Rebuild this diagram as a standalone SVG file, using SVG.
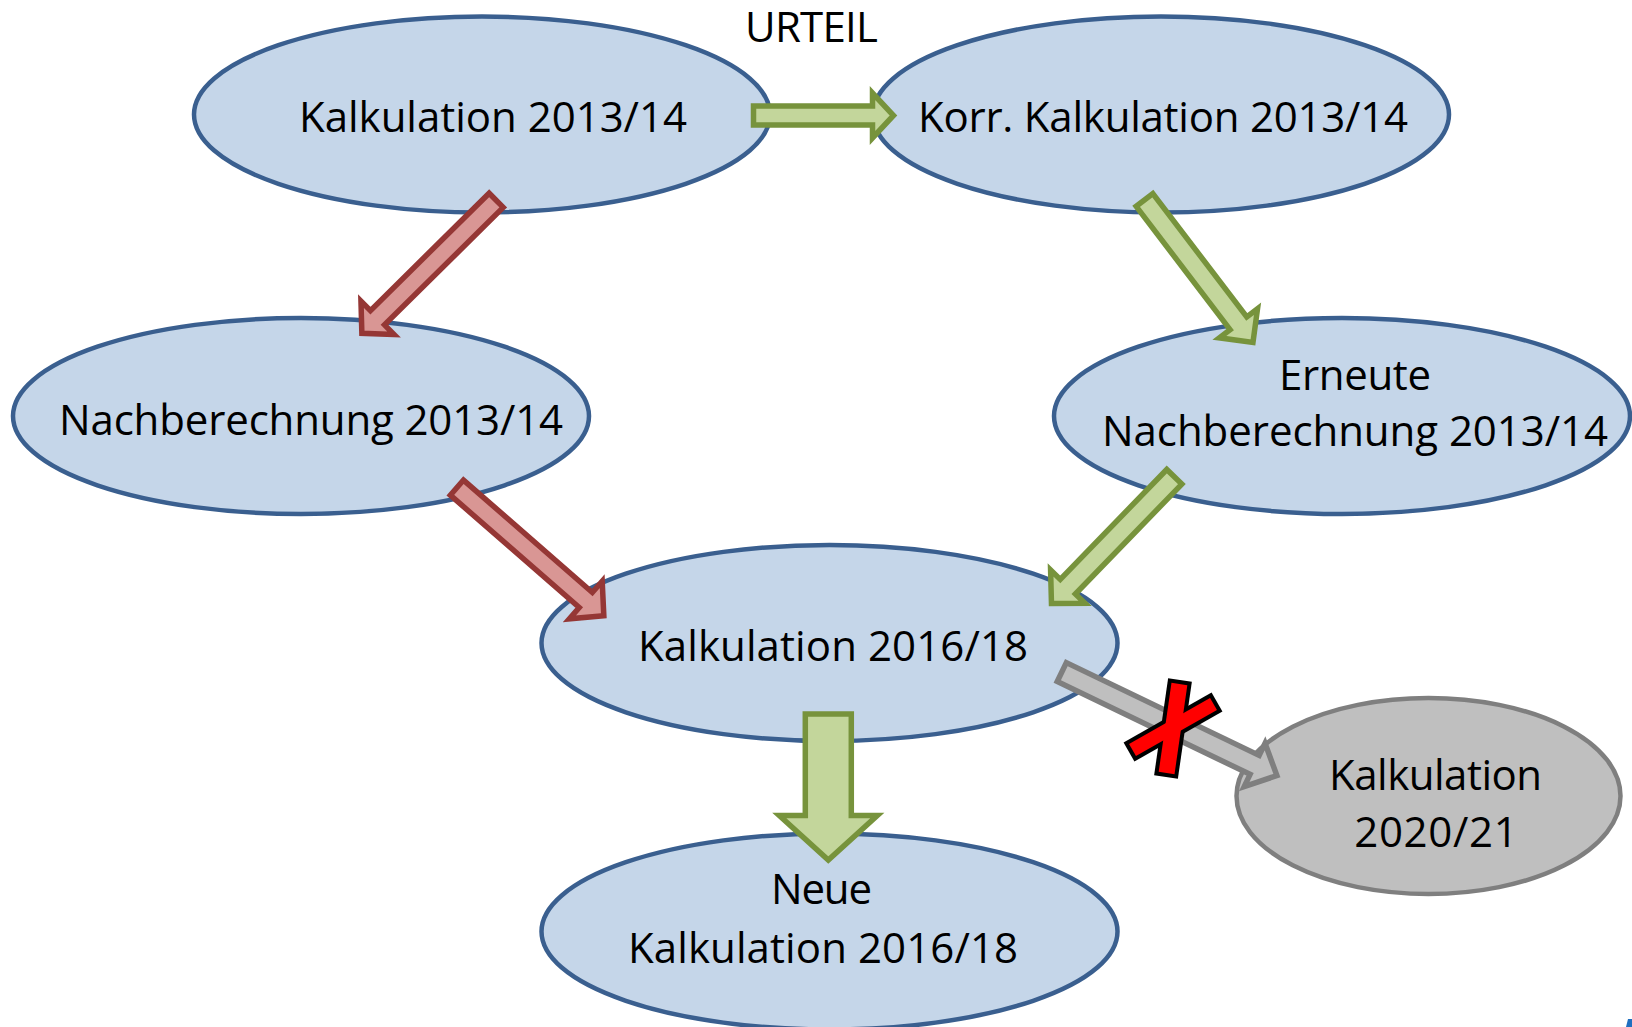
<svg xmlns="http://www.w3.org/2000/svg" width="1632" height="1027" viewBox="0 0 1632 1027">
<style>
  .node { fill: #C5D6E9; stroke: #3A5F8F; stroke-width: 4.5; }
  .gnode { fill: #BFBFBF; stroke: #7F7F7F; stroke-width: 4.5; }
  .lbl { font-family: "Open Sans", "Liberation Sans", sans-serif; font-size: 42px; fill: #000; text-anchor: middle; }
  .green { fill: #C3D69B; stroke: #77933C; stroke-width: 5.5; stroke-linejoin: miter; stroke-miterlimit: 10; }
  .red { fill: #D99694; stroke: #953735; stroke-width: 5.5; stroke-linejoin: miter; stroke-miterlimit: 10; }
  .grey { fill: #BFBFBF; stroke: #7F7F7F; stroke-width: 5.5; stroke-linejoin: miter; stroke-miterlimit: 10; }
</style>
<rect width="1632" height="1027" fill="#FFFFFF"/>
<text class="lbl" x="811.5" y="42" font-size="40" textLength="133" lengthAdjust="spacing">URTEIL</text>
<g id="n1">
  <ellipse class="node" cx="482" cy="114.5" rx="288" ry="98"/>
  <text class="lbl" x="493" y="131.5" textLength="388" lengthAdjust="spacing">Kalkulation 2013/14</text>
</g>
<g id="n2">
  <ellipse class="node" cx="1161" cy="114.5" rx="288" ry="98"/>
  <text class="lbl" x="1163" y="131.5" textLength="490" lengthAdjust="spacing">Korr. Kalkulation 2013/14</text>
</g>
<g id="n3">
  <ellipse class="node" cx="301" cy="416" rx="288" ry="98"/>
  <text class="lbl" x="311" y="434.5" textLength="504" lengthAdjust="spacing">Nachberechnung 2013/14</text>
</g>
<g id="n4">
  <ellipse class="node" cx="1342" cy="416" rx="288" ry="98"/>
  <text class="lbl" x="1355" y="389.5" textLength="152" lengthAdjust="spacing">Erneute</text>
  <text class="lbl" x="1355" y="446" textLength="506" lengthAdjust="spacing">Nachberechnung 2013/14</text>
</g>
<g id="n5">
  <ellipse class="node" cx="829.5" cy="643" rx="288" ry="98"/>
  <text class="lbl" x="833" y="660.5" textLength="390" lengthAdjust="spacing">Kalkulation 2016/18</text>
</g>
<g id="n6">
  <ellipse class="node" cx="829.5" cy="931.5" rx="288" ry="98"/>
  <text class="lbl" x="821.5" y="903.5" textLength="101" lengthAdjust="spacing">Neue</text>
  <text class="lbl" x="823" y="962.5" textLength="390" lengthAdjust="spacing">Kalkulation 2016/18</text>
</g>
<g id="n7">
  <ellipse class="gnode" cx="1428.5" cy="796" rx="192" ry="98"/>
  <text class="lbl" x="1435.5" y="789.5" textLength="213" lengthAdjust="spacing">Kalkulation</text>
  <text class="lbl" x="1436" y="846.5" textLength="163.5" lengthAdjust="spacing">2020/21</text>
</g>
<g id="connectors">
  <path class="green" transform="translate(753.5,115.5) rotate(0)" d="M0,-9.5 H119 V-22.5 L140,0 L119,22.5 V9.5 H0 Z"/>
  <path class="red" transform="translate(496.2,200.3) rotate(135.3)" d="M0,-10 H167 V-23.5 L189,0 L167,23.5 V10 H0 Z"/>
  <path class="green" transform="translate(1144.5,200) rotate(52.7)" d="M0,-10.5 H155 V-24 L179,0 L155,24 V10.5 H0 Z"/>
  <path class="red" transform="translate(456.9,487.6) rotate(41.1)" d="M0,-10 H171 V-25 L195,0 L171,25 V10 H0 Z"/>
  <path class="green" transform="translate(1174.3,476.8) rotate(134.1)" d="M0,-10.5 H153 V-24 L176.5,0 L153,24 V10.5 H0 Z"/>
  <path class="green" transform="translate(828.3,714) rotate(90)" d="M0,-23 H101.5 V-49 L146,0 L101.5,49 V23 H0 Z"/>
  <path class="grey" transform="translate(1061.8,672.1) rotate(25.7)" d="M0,-10.5 H214 V-24 L238.7,0 L214,24 V10.5 H0 Z"/>
  <g id="cross">
    <line x1="1180" y1="680" x2="1166" y2="777" stroke="#000" stroke-width="24"/>
    <line x1="1217" y1="702" x2="1129" y2="752" stroke="#000" stroke-width="22"/>
    <line x1="1179.4" y1="684" x2="1166.6" y2="773" stroke="#FF0000" stroke-width="16"/>
    <line x1="1213.5" y1="704" x2="1132.5" y2="750" stroke="#FF0000" stroke-width="14"/>
  </g>
</g>
<polygon points="1628,1019 1632,1019 1632,1027 1626,1027" fill="#1F6FC0"/>
</svg>
